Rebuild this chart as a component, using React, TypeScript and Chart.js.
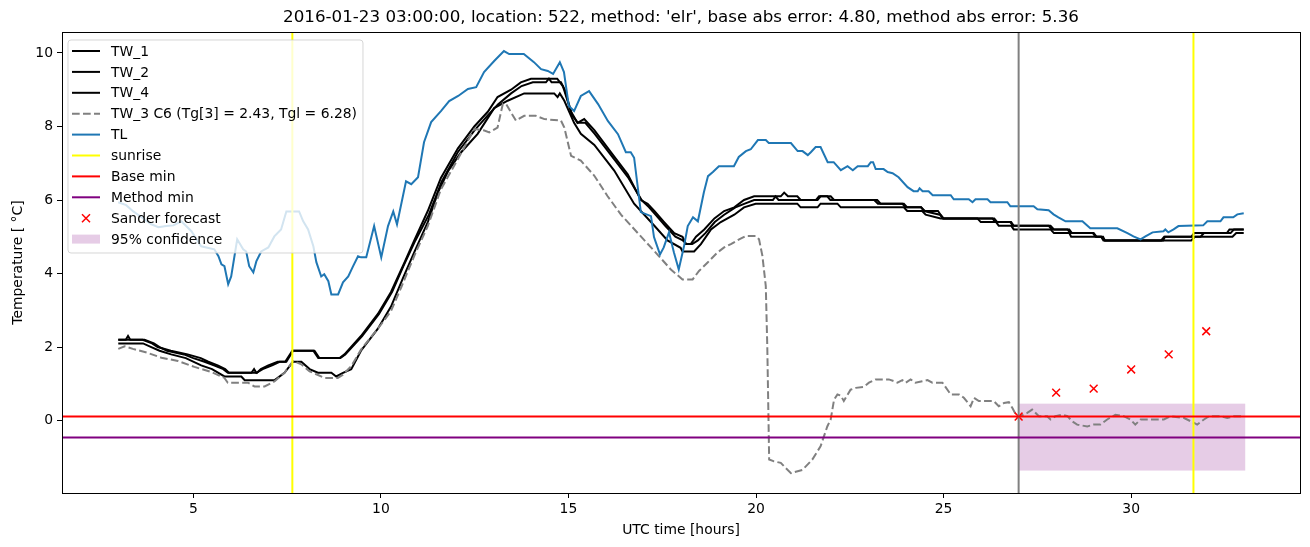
import React, { useEffect, useRef } from "react";
import { Chart, registerables } from "chart.js";
Chart.register(...registerables);

const FONT = "'DejaVu Sans', sans-serif";

const TITLE = "2016-01-23 03:00:00, location: 522, method: 'elr', base abs error: 4.80, method abs error: 5.36";
const X_LABEL = "UTC time [hours]";
const Y_LABEL = "Temperature [ °C]";
const X_TICKS = [5, 10, 15, 20, 25, 30];
const Y_TICKS = [0, 2, 4, 6, 8, 10];
const X_MIN = 1.5;
const X_MAX = 34.5;
const Y_MIN = -1.97;
const Y_MAX = 10.57;

const TW_1 = [
  [3.0, 2.2], [3.65, 2.2], [3.9, 2.1], [4.05, 2.0], [4.4, 1.9], [4.85, 1.8], [5.2, 1.7], [5.4, 1.6], [5.65, 1.5], [5.85, 1.4], [5.95, 1.3], [6.7, 1.3], [6.8, 1.4], [7.0, 1.5], [7.25, 1.6], [7.48, 1.6], [7.66, 1.9], [8.23, 1.9], [8.36, 1.7], [8.9, 1.7], [9.03, 1.8], [9.47, 2.3], [9.92, 2.9], [10.27, 3.5], [10.63, 4.3], [10.89, 4.9], [11.25, 5.7], [11.6, 6.6], [12.05, 7.4], [12.49, 8.0], [12.85, 8.4], [13.11, 8.8], [13.47, 9.0], [13.73, 9.2], [14.0, 9.3], [14.7, 9.3], [14.85, 9.1], [15.07, 8.4], [15.24, 8.1], [15.42, 8.2], [15.69, 7.9], [16.13, 7.3], [16.58, 6.7], [16.93, 6.0], [17.11, 5.9], [17.29, 5.7], [17.55, 5.4], [17.82, 5.1], [18.04, 5.0], [18.13, 4.8], [18.26, 4.8], [18.4, 5.0], [18.62, 5.2], [18.89, 5.5], [19.15, 5.7], [19.42, 5.8], [19.68, 6.0], [19.95, 6.1], [20.66, 6.1], [20.75, 6.2], [20.85, 6.1], [21.1, 6.1], [21.19, 6.0], [21.64, 6.0], [21.72, 6.1], [21.99, 6.1], [22.08, 6.0], [23.23, 6.0], [23.32, 5.9], [23.94, 5.9], [24.03, 5.8], [24.4, 5.8], [24.5, 5.7], [24.85, 5.7], [24.92, 5.6], [25.0, 5.5], [26.35, 5.5], [26.43, 5.4], [26.8, 5.4], [26.87, 5.3], [27.85, 5.3], [27.94, 5.2], [28.3, 5.2], [28.38, 5.1], [28.98, 5.1], [29.05, 5.0], [29.25, 5.0], [29.3, 4.9], [30.85, 4.9], [30.9, 5.0], [31.85, 5.0], [31.94, 5.1], [32.65, 5.1], [32.74, 5.2], [33.0, 5.2],
];

const TW_2 = [
  [3.0, 2.2], [3.2, 2.2], [3.26, 2.3], [3.32, 2.2], [3.7, 2.2], [3.95, 2.1], [4.1, 2.0], [4.3, 1.9], [4.75, 1.8], [5.0, 1.7], [5.3, 1.6], [5.55, 1.5], [5.8, 1.4], [5.92, 1.3], [6.55, 1.3], [6.62, 1.4], [6.68, 1.3], [6.85, 1.4], [7.1, 1.5], [7.3, 1.6], [7.45, 1.6], [7.64, 1.9], [8.2, 1.9], [8.33, 1.7], [8.92, 1.7], [9.05, 1.8], [9.5, 2.3], [9.95, 2.9], [10.3, 3.5], [10.6, 4.2], [10.92, 4.9], [11.28, 5.6], [11.62, 6.5], [12.05, 7.3], [12.5, 7.9], [12.85, 8.3], [13.12, 8.6], [13.47, 8.9], [13.75, 9.1], [14.05, 9.2], [14.4, 9.2], [14.48, 9.3], [14.55, 9.2], [14.8, 9.2], [14.9, 9.0], [15.1, 8.3], [15.25, 8.1], [15.45, 8.1], [15.7, 7.8], [16.15, 7.2], [16.6, 6.6], [16.95, 6.0], [17.15, 5.8], [17.32, 5.6], [17.58, 5.3], [17.85, 5.0], [18.05, 4.9], [18.15, 4.8], [18.3, 4.8], [18.45, 4.9], [18.65, 5.1], [18.9, 5.4], [19.15, 5.6], [19.45, 5.8], [19.7, 5.9], [19.95, 6.0], [20.45, 6.0], [20.52, 6.1], [20.6, 6.0], [21.6, 6.0], [21.68, 6.1], [21.9, 6.1], [21.98, 6.0], [23.15, 6.0], [23.25, 5.9], [23.9, 5.9], [23.98, 5.8], [24.4, 5.8], [24.48, 5.7], [24.9, 5.6], [24.98, 5.5], [26.3, 5.5], [26.38, 5.4], [26.78, 5.4], [26.85, 5.3], [27.8, 5.3], [27.88, 5.2], [28.35, 5.2], [28.42, 5.1], [29.0, 5.1], [29.08, 5.0], [29.2, 5.0], [29.26, 4.9], [30.8, 4.9], [30.88, 5.0], [31.6, 5.0], [31.68, 5.1], [32.55, 5.1], [32.62, 5.2], [33.0, 5.2],
];

const TW_4 = [
  [3.0, 2.1], [3.66, 2.1], [3.88, 2.0], [4.1, 1.9], [4.41, 1.8], [4.8, 1.7], [5.21, 1.5], [5.5, 1.4], [5.83, 1.2], [6.28, 1.2], [6.37, 1.1], [7.17, 1.1], [7.43, 1.3], [7.66, 1.6], [7.88, 1.6], [8.1, 1.4], [8.32, 1.3], [8.68, 1.3], [8.81, 1.2], [8.99, 1.3], [9.21, 1.4], [9.47, 1.9], [9.92, 2.5], [10.27, 3.1], [10.6, 3.9], [10.9, 4.6], [11.25, 5.4], [11.52, 6.2], [11.8, 6.8], [12.14, 7.3], [12.58, 7.8], [13.02, 8.5], [13.38, 8.7], [13.82, 8.9], [14.62, 8.9], [14.71, 8.8], [14.77, 8.9], [14.89, 8.7], [15.15, 8.1], [15.33, 7.8], [15.69, 7.5], [16.22, 6.8], [16.75, 5.9], [17.29, 5.3], [17.64, 4.9], [17.99, 4.7], [18.04, 4.6], [18.35, 4.6], [18.53, 4.8], [18.8, 5.2], [19.06, 5.4], [19.42, 5.6], [19.68, 5.8], [19.99, 5.9], [21.1, 5.9], [21.19, 5.8], [21.64, 5.8], [21.72, 5.9], [22.17, 5.9], [22.26, 5.8], [23.94, 5.8], [24.03, 5.7], [24.43, 5.7], [24.52, 5.6], [24.92, 5.5], [25.9, 5.5], [25.99, 5.4], [26.4, 5.4], [26.47, 5.3], [26.8, 5.3], [26.87, 5.2], [27.85, 5.2], [27.94, 5.1], [28.35, 5.1], [28.4, 5.0], [29.2, 5.0], [29.3, 4.9], [31.6, 4.9], [31.7, 5.0], [32.7, 5.0], [32.8, 5.1], [33.0, 5.1],
];

const TW_3 = [
  [3.0, 1.95], [3.17, 2.02], [3.39, 1.95], [3.79, 1.84], [4.15, 1.71], [4.59, 1.62], [5.03, 1.46], [5.48, 1.32], [5.83, 1.16], [5.92, 1.03], [6.46, 1.03], [6.63, 0.93], [6.9, 0.93], [7.17, 1.07], [7.43, 1.3], [7.66, 1.62], [7.88, 1.53], [8.1, 1.34], [8.5, 1.16], [8.85, 1.16], [8.99, 1.25], [9.21, 1.48], [9.47, 1.93], [10.01, 2.62], [10.27, 2.98], [10.54, 3.62], [10.89, 4.48], [11.25, 5.29], [11.6, 6.29], [12.05, 7.11], [12.49, 7.93], [12.76, 7.89], [12.89, 7.84], [13.11, 7.97], [13.25, 8.61], [13.34, 8.61], [13.47, 8.38], [13.6, 8.16], [13.82, 8.29], [14.13, 8.29], [14.36, 8.2], [14.8, 8.16], [14.89, 7.97], [15.07, 7.2], [15.33, 7.07], [15.69, 6.66], [16.04, 6.11], [16.4, 5.6], [16.84, 5.11], [17.29, 4.61], [17.73, 4.11], [18.04, 3.84], [18.31, 3.84], [18.48, 4.07], [18.71, 4.3], [18.97, 4.57], [19.15, 4.71], [19.33, 4.8], [19.55, 4.93], [19.73, 5.02], [19.99, 5.02], [20.08, 4.93], [20.17, 4.48], [20.26, 3.66], [20.3, 2.02], [20.35, -1.06], [20.48, -1.11], [20.66, -1.15], [20.79, -1.29], [20.93, -1.43], [21.24, -1.34], [21.5, -1.06], [21.72, -0.7], [21.9, -0.16], [21.99, 0.03], [22.08, 0.57], [22.17, 0.71], [22.26, 0.68], [22.34, 0.53], [22.52, 0.84], [22.66, 0.89], [22.88, 0.92], [23.01, 1.03], [23.19, 1.12], [23.54, 1.12], [23.68, 1.07], [23.77, 1.03], [23.9, 1.1], [23.99, 1.03], [24.12, 1.12], [24.25, 1.03], [24.43, 1.07], [24.57, 1.1], [24.7, 1.03], [24.97, 1.03], [25.19, 0.71], [25.41, 0.71], [25.54, 0.62], [25.72, 0.39], [25.81, 0.62], [25.94, 0.53], [26.34, 0.53], [26.47, 0.39], [26.61, 0.48], [26.74, 0.5], [26.83, 0.35], [26.96, 0.1], [27.05, 0.12], [27.23, 0.21], [27.36, 0.3], [27.54, 0.12], [27.76, 0.12], [27.85, 0.03], [27.98, 0.12], [28.16, 0.16], [28.3, 0.12], [28.43, -0.02], [28.56, -0.11], [28.83, -0.16], [29.0, -0.11], [29.18, -0.11], [29.36, 0.03], [29.58, 0.16], [29.8, 0.12], [29.98, 0.03], [30.11, -0.11], [30.25, 0.03], [30.69, 0.03], [30.87, 0.03], [31.05, 0.12], [31.41, 0.07], [31.59, -0.02], [31.76, -0.11], [31.94, 0.03], [32.08, 0.12], [32.38, 0.12], [32.56, 0.07], [32.74, 0.12], [33.0, 0.12],
];

const TL = [
  [3.0, 5.94], [3.21, 5.86], [3.4, 5.69], [3.62, 5.53], [3.88, 5.34], [4.07, 5.26], [4.28, 5.29], [4.47, 5.31], [4.68, 5.42], [4.95, 5.15], [5.21, 4.74], [5.56, 4.66], [5.67, 4.47], [5.75, 4.25], [5.83, 4.2], [5.93, 3.71], [6.01, 3.92], [6.17, 4.93], [6.33, 4.66], [6.41, 4.6], [6.49, 4.2], [6.6, 4.03], [6.68, 4.33], [6.81, 4.6], [7.0, 4.71], [7.16, 5.01], [7.34, 5.2], [7.48, 5.69], [7.82, 5.69], [7.93, 5.42], [8.06, 5.2], [8.2, 4.74], [8.28, 4.31], [8.41, 3.92], [8.49, 3.98], [8.6, 3.79], [8.68, 3.43], [8.86, 3.43], [8.99, 3.76], [9.13, 3.92], [9.26, 4.2], [9.39, 4.47], [9.47, 4.44], [9.61, 4.44], [9.82, 5.29], [10.01, 4.44], [10.19, 5.29], [10.33, 5.69], [10.43, 5.34], [10.67, 6.51], [10.81, 6.43], [10.99, 6.62], [11.15, 7.57], [11.34, 8.12], [11.6, 8.42], [11.82, 8.69], [12.06, 8.83], [12.32, 9.02], [12.54, 9.07], [12.75, 9.48], [13.02, 9.78], [13.28, 10.05], [13.42, 9.97], [13.81, 9.97], [14.08, 9.75], [14.27, 9.56], [14.45, 9.51], [14.59, 9.43], [14.77, 9.75], [14.88, 9.48], [15.01, 8.56], [15.15, 8.42], [15.33, 8.83], [15.55, 8.96], [15.79, 8.61], [16.05, 8.15], [16.32, 7.79], [16.53, 7.3], [16.66, 7.3], [16.75, 7.15], [16.93, 5.67], [17.2, 5.56], [17.28, 4.99], [17.44, 4.52], [17.54, 4.71], [17.68, 5.12], [17.81, 4.58], [17.94, 4.11], [18.08, 4.74], [18.18, 5.29], [18.32, 5.53], [18.45, 5.42], [18.61, 6.21], [18.72, 6.65], [18.85, 6.76], [19.01, 6.92], [19.41, 6.92], [19.54, 7.17], [19.73, 7.33], [19.86, 7.38], [20.05, 7.63], [20.26, 7.63], [20.34, 7.55], [20.93, 7.55], [21.11, 7.33], [21.24, 7.33], [21.38, 7.22], [21.46, 7.3], [21.59, 7.44], [21.72, 7.44], [21.91, 7.03], [22.07, 7.03], [22.26, 6.81], [22.44, 6.92], [22.58, 6.81], [22.71, 6.92], [22.98, 6.92], [23.06, 7.03], [23.12, 7.03], [23.19, 6.84], [23.4, 6.84], [23.51, 6.76], [23.64, 6.73], [23.8, 6.62], [24.04, 6.35], [24.2, 6.24], [24.31, 6.24], [24.36, 6.32], [24.44, 6.24], [24.6, 6.24], [24.71, 6.13], [25.19, 6.13], [25.27, 6.02], [25.67, 6.02], [25.77, 5.94], [25.85, 6.02], [26.17, 6.02], [26.25, 5.94], [26.7, 5.94], [26.78, 5.83], [27.4, 5.83], [27.5, 5.75], [27.8, 5.72], [27.93, 5.61], [28.06, 5.53], [28.25, 5.42], [28.7, 5.42], [28.91, 5.23], [29.63, 5.23], [29.9, 5.1], [30.06, 5.01], [30.25, 4.93], [30.38, 5.01], [30.57, 5.12], [30.86, 5.15], [30.91, 5.2], [30.99, 5.12], [31.13, 5.2], [31.26, 5.29], [31.92, 5.31], [32.03, 5.42], [32.38, 5.42], [32.46, 5.53], [32.72, 5.53], [32.83, 5.61], [33.0, 5.64],
];

const SUNRISE = [7.64, 31.66];
const FORECAST_START = 27.0;
const BASE_MIN = 0.11;
const METHOD_MIN = -0.46;
const SANDER_X = [27, 28, 29, 30, 31, 32];
const SANDER_Y = [0.11, 0.76, 0.87, 1.39, 1.8, 2.43];
const CONF_X = [27.0, 33.04];
const CONF_LOW = -1.36;
const CONF_HIGH = 0.46;

const LEGEND_LABELS = [
  "TW_1",
  "TW_2",
  "TW_4",
  "TW_3 C6 (Tg[3] = 2.43, Tgl = 6.28)",
  "TL",
  "sunrise",
  "Base min",
  "Method min",
  "Sander forecast",
  "95% confidence",
];

const toXY = (arr: number[][]) => arr.map(([x, y]) => ({ x, y }));

const TXT = "#000000";
const LEGEND_STYLE = [
  { kind: "line", color: "#000000" },
  { kind: "line", color: "#000000" },
  { kind: "line", color: "#000000" },
  { kind: "dash", color: "#808080" },
  { kind: "line", color: "#1f77b4" },
  { kind: "line", color: "#ffff00" },
  { kind: "line", color: "#ff0000" },
  { kind: "line", color: "#800080" },
  { kind: "cross", color: "#ff0000" },
  { kind: "patch", color: "rgba(128,0,128,0.2)" },
];

const overlayPlugin = {
  id: "overlay",
  beforeDatasetsDraw(chart: any) {
    const { ctx, chartArea, scales } = chart;
    const x = scales.x, y = scales.y;
    ctx.save();
    ctx.beginPath();
    ctx.rect(chartArea.left, chartArea.top, chartArea.right - chartArea.left, chartArea.bottom - chartArea.top);
    ctx.clip();
    const x0 = x.getPixelForValue(CONF_X[0]);
    const x1 = x.getPixelForValue(CONF_X[1]);
    const y0 = y.getPixelForValue(CONF_HIGH);
    const y1 = y.getPixelForValue(CONF_LOW);
    ctx.fillStyle = "rgba(128,0,128,0.2)";
    ctx.fillRect(x0, y0, x1 - x0, y1 - y0);
    ctx.restore();
  },
  afterDatasetsDraw(chart: any) {
    const { ctx, chartArea, scales } = chart;
    const x = scales.x, y = scales.y;
    ctx.save();
    ctx.lineWidth = 2;
    const vline = (v: number, c: string) => {
      const px = x.getPixelForValue(v);
      ctx.strokeStyle = c;
      ctx.beginPath();
      ctx.moveTo(px, chartArea.top);
      ctx.lineTo(px, chartArea.bottom);
      ctx.stroke();
    };
    const hline = (v: number, c: string) => {
      const py = y.getPixelForValue(v);
      ctx.strokeStyle = c;
      ctx.beginPath();
      ctx.moveTo(chartArea.left, py);
      ctx.lineTo(chartArea.right, py);
      ctx.stroke();
    };
    SUNRISE.forEach((s) => vline(s, "#ffff00"));
    vline(FORECAST_START, "#808080");
    hline(BASE_MIN, "#ff0000");
    hline(METHOD_MIN, "#800080");
    // frame
    ctx.strokeStyle = "#000";
    ctx.lineWidth = 1;
    ctx.strokeRect(Math.round(chartArea.left) + 0.5, Math.round(chartArea.top) + 0.5,
      Math.round(chartArea.right - chartArea.left), Math.round(chartArea.bottom - chartArea.top));
    ctx.restore();
  },
  afterDraw(chart: any) {
    const { ctx, chartArea } = chart;
    ctx.save();
    // title
    ctx.fillStyle = TXT;
    ctx.font = `16.7px ${FONT}`;
    ctx.textAlign = "center";
    ctx.textBaseline = "middle";
    ctx.fillText(TITLE, (chartArea.left + chartArea.right) / 2, 18);
    // legend
    const fs = 13.9;
    ctx.font = `${fs}px ${FONT}`;
    let maxW = 0;
    LEGEND_LABELS.forEach((l) => { maxW = Math.max(maxW, ctx.measureText(l).width); });
    const bx = chartArea.left + 6;
    const by = chartArea.top + 8;
    const rowH = 20.9;
    const handleX0 = bx + 4;
    const handleX1 = handleX0 + 28;
    const textX = handleX1 + 11;
    const bw = textX - bx + maxW + 6;
    const bh = LEGEND_LABELS.length * rowH + 4;
    const r = 3;
    ctx.beginPath();
    ctx.moveTo(bx + r, by);
    ctx.lineTo(bx + bw - r, by);
    ctx.arcTo(bx + bw, by, bx + bw, by + r, r);
    ctx.lineTo(bx + bw, by + bh - r);
    ctx.arcTo(bx + bw, by + bh, bx + bw - r, by + bh, r);
    ctx.lineTo(bx + r, by + bh);
    ctx.arcTo(bx, by + bh, bx, by + bh - r, r);
    ctx.lineTo(bx, by + r);
    ctx.arcTo(bx, by, bx + r, by, r);
    ctx.closePath();
    ctx.fillStyle = "rgba(255,255,255,0.8)";
    ctx.fill();
    ctx.strokeStyle = "rgba(204,204,204,0.8)";
    ctx.lineWidth = 1;
    ctx.stroke();
    LEGEND_LABELS.forEach((label, i) => {
      const cy = by + 11 + i * rowH;
      const st = LEGEND_STYLE[i];
      ctx.lineWidth = 2;
      ctx.setLineDash([]);
      if (st.kind === "line" || st.kind === "dash") {
        if (st.kind === "dash") ctx.setLineDash([7.7, 3.3]);
        ctx.strokeStyle = st.color;
        ctx.beginPath();
        ctx.moveTo(handleX0, cy);
        ctx.lineTo(handleX1, cy);
        ctx.stroke();
        ctx.setLineDash([]);
      } else if (st.kind === "cross") {
        const cx = (handleX0 + handleX1) / 2;
        ctx.strokeStyle = st.color;
        ctx.lineWidth = 1.5;
        ctx.beginPath();
        ctx.moveTo(cx - 4, cy - 4); ctx.lineTo(cx + 4, cy + 4);
        ctx.moveTo(cx - 4, cy + 4); ctx.lineTo(cx + 4, cy - 4);
        ctx.stroke();
      } else {
        ctx.fillStyle = st.color;
        ctx.fillRect(handleX0, cy - 4.5, handleX1 - handleX0, 9);
      }
      ctx.fillStyle = TXT;
      ctx.textAlign = "left";
      ctx.textBaseline = "middle";
      ctx.fillText(label, textX, cy + 1);
    });
    ctx.restore();
  },
};

export default function App() {
  const ref = useRef<HTMLCanvasElement>(null);
  useEffect(() => {
    const canvas = ref.current!;
    const lineDs = (label: string, data: number[][], color: string, dash: number[] = []) => ({
      type: "line" as const,
      label,
      data: toXY(data),
      borderColor: color,
      backgroundColor: color,
      borderWidth: 2,
      borderDash: dash,
      pointRadius: 0,
      tension: 0,
      fill: false,
    });
    const chart = new Chart(canvas, {
      type: "line",
      data: {
        datasets: [
          {
            type: "scatter" as const,
            label: "Sander forecast",
            data: SANDER_X.map((x, i) => ({ x, y: SANDER_Y[i] })),
            pointStyle: "crossRot",
            pointRadius: 5.5,
            borderColor: "#ff0000",
            backgroundColor: "#ff0000",
            borderWidth: 1.5,
            showLine: false,
          } as any,
          lineDs("TL", TL, "#1f77b4"),
          lineDs("TW_3", TW_3, "#808080", [7.7, 3.3]),
          lineDs("TW_4", TW_4, "#000000"),
          lineDs("TW_2", TW_2, "#000000"),
          lineDs("TW_1", TW_1, "#000000"),
        ],
      },
      options: {
        responsive: false,
        animation: false,
        devicePixelRatio: 1,
        layout: { padding: { top: 32, right: 10, bottom: 0, left: 0 } },
        plugins: { legend: { display: false }, tooltip: { enabled: false }, title: { display: false } },
        scales: {
          x: {
            type: "linear",
            min: X_MIN,
            max: X_MAX,
            afterBuildTicks: (s: any) => { s.ticks = X_TICKS.map((v) => ({ value: v })); },
            afterFit: (s: any) => { s.height = 54; },
            ticks: { font: { family: FONT, size: 13.9 }, color: TXT, padding: 3, maxRotation: 0, autoSkip: false },
            grid: { display: true, drawOnChartArea: false, drawTicks: true, tickLength: 5, color: "#000", lineWidth: 1 },
            border: { display: false },
            title: { display: true, text: X_LABEL, font: { family: FONT, size: 13.9 }, color: TXT, padding: { top: 0, bottom: 8 } },
          },
          y: {
            type: "linear",
            min: Y_MIN,
            max: Y_MAX,
            afterBuildTicks: (s: any) => { s.ticks = Y_TICKS.map((v) => ({ value: v })); },
            afterFit: (s: any) => { s.width = 62; },
            ticks: { font: { family: FONT, size: 13.9 }, color: TXT, padding: 4, autoSkip: false },
            grid: { display: true, drawOnChartArea: false, drawTicks: true, tickLength: 5, color: "#000", lineWidth: 1 },
            border: { display: false },
            title: { display: true, text: Y_LABEL, font: { family: FONT, size: 13.9 }, color: TXT, padding: { top: 10, bottom: 0 } },
          },
        },
      } as any,
      plugins: [overlayPlugin],
    });
    return () => chart.destroy();
  }, []);
  return (
    <div style={{ position: "absolute", left: 0, top: 0, width: 1310, height: 547, background: "#fff" }}>
      <canvas ref={ref} width={1310} height={547} style={{ display: "block", width: 1310, height: 547 }} />
    </div>
  );
}
